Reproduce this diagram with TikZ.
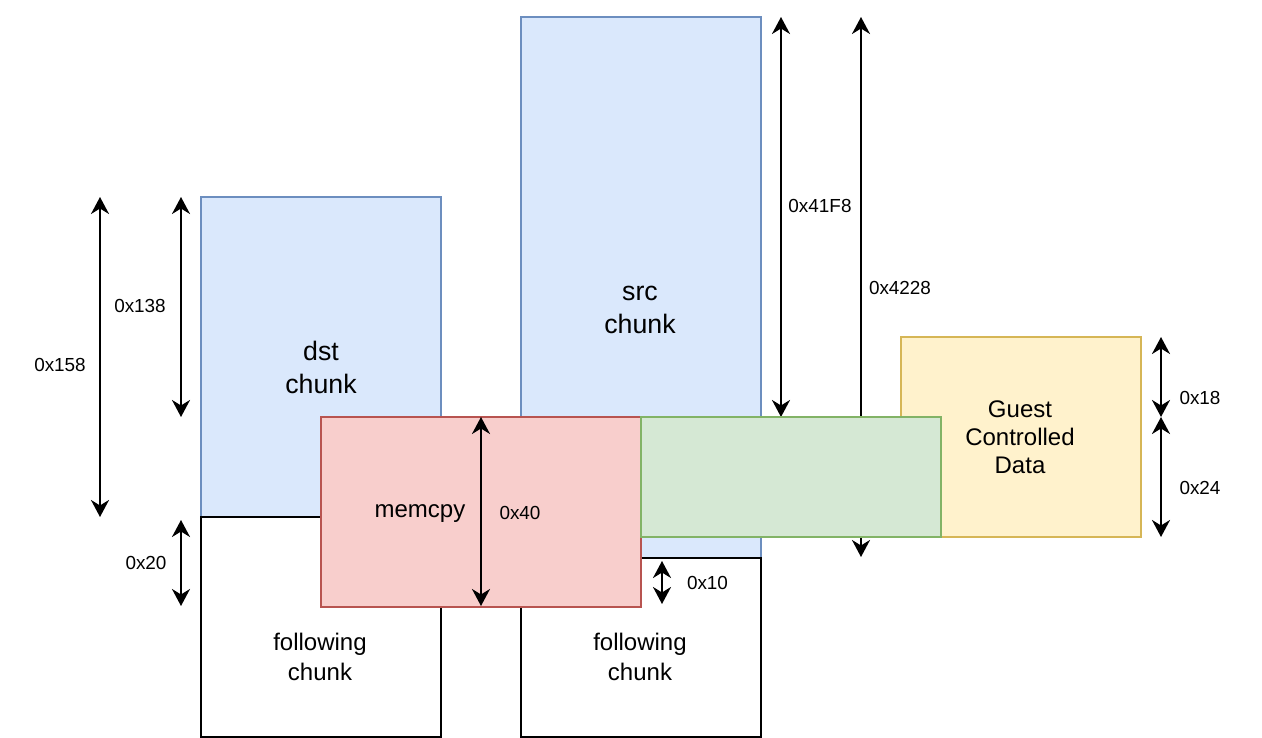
\documentclass[tikz,border=0pt]{standalone}
\usepackage{fontspec}
\setmainfont{Liberation Sans}
\usetikzlibrary{arrows.meta}
\definecolor{bluefill}{HTML}{DAE8FC}
\definecolor{bluedraw}{HTML}{6C8EBF}
\definecolor{redfill}{HTML}{F8CECC}
\definecolor{reddraw}{HTML}{B85450}
\definecolor{greenfill}{HTML}{D5E8D4}
\definecolor{greendraw}{HTML}{82B366}
\definecolor{yellowfill}{HTML}{FFF2CC}
\definecolor{yellowdraw}{HTML}{D6B656}
\begin{document}
\begin{tikzpicture}[x=1pt,y=-1pt,
  box/.style={draw, line width=1.6pt, inner sep=0pt, rectangle},
  bluebox/.style={box, draw=bluedraw, fill=bluefill},
  whitebox/.style={box, draw=black, fill=white},
  redbox/.style={box, draw=reddraw, fill=redfill},
  greenbox/.style={box, draw=greendraw, fill=greenfill},
  yellowbox/.style={box, draw=yellowdraw, fill=yellowfill},
  dim/.style={line width=2.4pt, {Stealth[length=17pt,width=18pt,inset=5.5pt]}-{Stealth[length=17pt,width=18pt,inset=5.5pt]}},
  bigtxt/.style={inner sep=0pt, align=center, font=\fontsize{26.7}{33}\selectfont},
  midtxt/.style={inner sep=0pt, align=center, font=\fontsize{24}{#1}\selectfont},
  lbl/.style={inner sep=0pt, font=\fontsize{18.9}{22.4}\selectfont}
]
\useasboundingbox (0,0) rectangle (1262,738);

% chunks
\node[bluebox, minimum width=240pt, minimum height=320pt] (dst) at (321,357) {};
\node[bluebox, minimum width=240pt, minimum height=541pt] (src) at (641,287.5) {};
\node[whitebox, minimum width=240pt, minimum height=220pt] (follL) at (321,627) {};
\node[whitebox, minimum width=240pt, minimum height=179pt] (follR) at (641,647.5) {};

% arrows behind the green box
\coordinate (a41t) at (781,17);
\coordinate (a41b) at (781,417);
\coordinate (a42t) at (861,17);
\coordinate (a42b) at (861,557);
\draw[dim] (a41t) -- (a41b);
\draw[dim] (a42t) -- (a42b);

\node[yellowbox, minimum width=240pt, minimum height=200pt] (guest) at (1021,437) {};
\node[redbox, minimum width=320pt, minimum height=190pt] (memcpy) at (481,512) {};
\node[greenbox, minimum width=300pt, minimum height=120pt] (green) at (791,477) {};

% other dimension arrows
\coordinate (a158t) at (100,197);
\coordinate (a158b) at (100,517);
\coordinate (a138t) at (181,197);
\coordinate (a138b) at (181,417);
\coordinate (a20t) at (181,520);
\coordinate (a20b) at (181,606);
\coordinate (a40t) at (481,417);
\coordinate (a40b) at (481,606);
\coordinate (a10t) at (662,561);
\coordinate (a10b) at (662,604);
\coordinate (a18t) at (1161,337);
\coordinate (a18b) at (1161,417);
\coordinate (a24t) at (1161,417);
\coordinate (a24b) at (1161,537);
\draw[dim] (a158t) -- (a158b);
\draw[dim] (a138t) -- (a138b);
\draw[dim] (a20t) -- (a20b);
\draw[dim] (a40t) -- (a40b);
\draw[dim] (a10t) -- (a10b);
\draw[dim] (a18t) -- (a18b);
\draw[dim] (a24t) -- (a24b);

% texts
\node[bigtxt] (dsttxt) at (321,370) {\strut dst\\\strut chunk};
\node[bigtxt] (srctxt) at (640,310) {\strut src\\\strut chunk};
\node[midtxt=30] (follLtxt) at (320,659) {\strut following\\\strut chunk};
\node[midtxt=30] (follRtxt) at (640,659) {\strut following\\\strut chunk};
\node[midtxt=28] (guesttxt) at (1020,440) {\strut Guest\\\strut Controlled\\\strut Data};
\node[midtxt=28.8] (memtxt) at (420,511.7) {\strut memcpy};

% labels
\node[lbl] (l158) at (60,367.5) {\strut 0x158};
\node[lbl] (l138) at (140,308.5) {\strut 0x138};
\node[lbl] (l20) at (146,565.5) {\strut 0x20};
\node[lbl] (l40) at (520,515.5) {\strut 0x40};
\node[lbl] (l10) at (707.5,585.5) {\strut 0x10};
\node[lbl] (l41F8) at (820,208.5) {\strut 0x41F8};
\node[lbl] (l4228) at (900,290.5) {\strut 0x4228};
\node[lbl] (l18) at (1200,400.5) {\strut 0x18};
\node[lbl] (l24) at (1200,490.5) {\strut 0x24};
\end{tikzpicture}
\end{document}
